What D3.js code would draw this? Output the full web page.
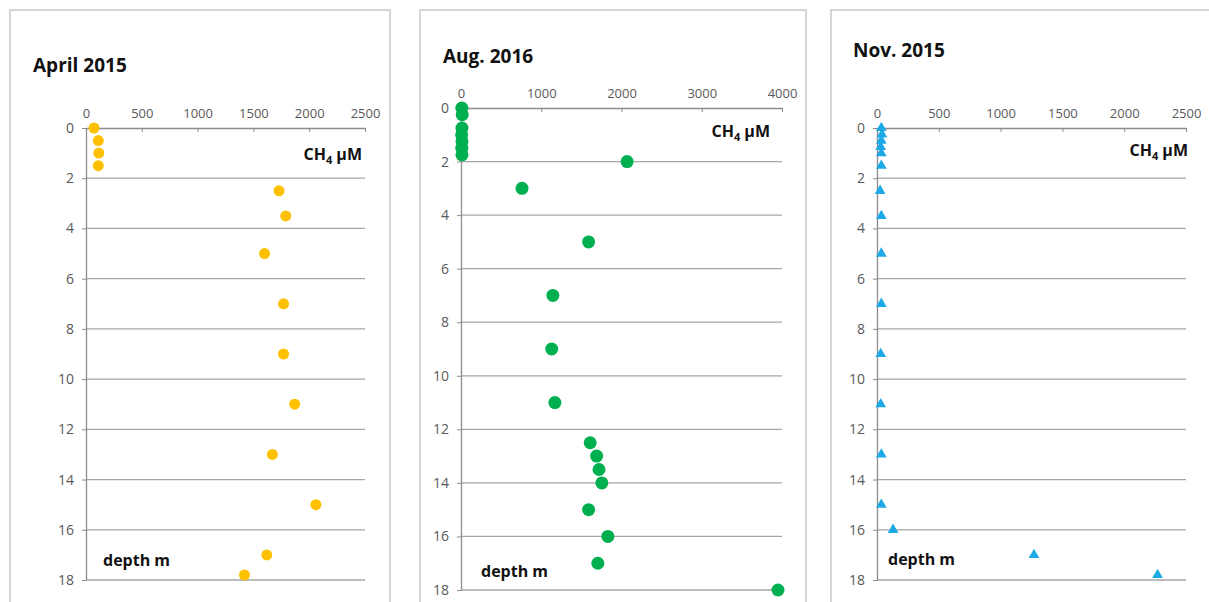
<!DOCTYPE html>
<html><head><meta charset="utf-8">
<script src="https://cdn.jsdelivr.net/npm/d3@7"></script>
<style>body{margin:0;background:#fff;font-family:"Open Sans",sans-serif}</style>
</head><body><svg id="chart" width="1209" height="602"></svg>
<script>
// depth (m) and CH4 (uM) per campaign
let aprDepth=[0,0.5,1,1.5,2.5,3.5,5,7,9,11,13,15,17,17.8];
let aprCH4=[72,110,115,110,1730,1790,1600,1770,1770,1870,1670,2060,1620,1420];
let augDepth=[0,0.25,0.75,1,1.25,1.5,1.75,2,3,5,7,9,11,12.5,13,13.5,14,15,16,17,18];
let augCH4=[10,15,12,8,12,10,12,2070,760,1590,1145,1130,1170,1610,1690,1720,1755,1590,1830,1705,3950];
let novDepth=[0,0.25,0.5,0.75,1,1.5,2.5,3.5,5,7,9,11,13,15,16,17,17.8];
let novCH4=[35,40,35,30,35,35,25,35,35,35,30,30,35,35,130,1270,2270];
let depthTicks=[0,2,4,6,8,10,12,14,16,18];

let panels=[
 {title:"April 2015",depth:aprDepth,ch4:aprCH4,xmax:2500,xstep:500,shape:"circle",color:"#ffc000",
  frame:[10,10,380,600],x0:86,x1:365,y0:128,y1:580,tx:33,ty:72,lab:[362,160],dep:[103,566]},
 {title:"Aug. 2016",depth:augDepth,ch4:augCH4,xmax:4000,xstep:1000,shape:"circle",color:"#00b050",
  frame:[420,10,386,600],x0:461,x1:782,y0:108,y1:590,tx:443,ty:63,lab:[770,137],dep:[481,577]},
 {title:"Nov. 2015",depth:novDepth,ch4:novCH4,xmax:2500,xstep:500,shape:"triangle",color:"#1ca9e6",
  frame:[831,10,390,600],x0:877,x1:1186,y0:128,y1:580,tx:853,ty:57,lab:[1188,156],dep:[888,565]}
];

const svg=d3.select("#chart");
panels.forEach(p=>{
  svg.append("rect").attr("x",p.frame[0]).attr("y",p.frame[1]).attr("width",p.frame[2]).attr("height",p.frame[3])
    .attr("fill","none").attr("stroke","#c8c8c8").attr("stroke-width",1.5);
  let x=d3.scaleLinear().domain([0,p.xmax]).range([p.x0,p.x1]);
  let y=d3.scaleLinear().domain([0,18]).range([p.y0,p.y1]);
  let g=svg.append("g");
  // gridlines
  g.selectAll(".grid").data(depthTicks.slice(1)).enter().append("line")
    .attr("x1",p.x0).attr("x2",p.x1).attr("y1",d=>y(d)).attr("y2",d=>y(d))
    .attr("stroke","#a6a6a6").attr("stroke-width",1.3);
  // top axis
  let xa=g.append("g").attr("transform","translate(0,"+p.y0+")")
    .call(d3.axisTop(x).tickValues(d3.range(0,p.xmax+1,p.xstep)).tickFormat(d3.format("d"))
      .tickSize(-4).tickSizeOuter(0).tickPadding(10));
  xa.selectAll("line").attr("stroke","#8c8c8c");
  xa.select(".domain").attr("stroke","#8c8c8c").attr("stroke-width",1.3);
  xa.selectAll("text").attr("fill","#595959").style("font-size","13px").style("font-family","Open Sans");
  let ya=g.append("g").attr("transform","translate("+p.x0+",0)")
    .call(d3.axisLeft(y).tickValues(depthTicks).tickSize(4).tickSizeOuter(0).tickPadding(8));
  ya.selectAll("line").attr("stroke","#8c8c8c");
  ya.select(".domain").attr("stroke","#8c8c8c").attr("stroke-width",1.3);
  ya.selectAll("text").attr("fill","#595959").style("font-size","14px").style("font-family","Open Sans");
  // marks
  let pts=p.depth.map((d,i)=>({d:d,c:p.ch4[i]}));
  if(p.shape=="circle"){
    g.selectAll(".pt").data(pts).enter().append("circle")
      .attr("cx",d=>x(d.c)).attr("cy",d=>y(d.d)).attr("r",p.title.startsWith("Aug")?6.5:5.5).attr("fill",p.color);
  } else {
    g.selectAll(".pt").data(pts).enter().append("path")
      .attr("d",d3.symbol(d3.symbolTriangle,50))
      .attr("transform",d=>"translate("+x(d.c)+","+y(d.d)+")").attr("fill",p.color);
  }
  svg.append("text").attr("x",p.tx).attr("y",p.ty).text(p.title)
    .attr("font-weight","bold").attr("font-size",19).attr("fill","#111");
  let t=svg.append("text").attr("x",p.lab[0]).attr("y",p.lab[1]).attr("text-anchor","end")
    .attr("font-weight","bold").attr("font-size",16).attr("fill","#111");
  t.append("tspan").text("CH");
  t.append("tspan").text("4").attr("font-size",11).attr("dy",4);
  t.append("tspan").text(" µM").attr("dy",-4);
  svg.append("text").attr("x",p.dep[0]).attr("y",p.dep[1]).text("depth m")
    .attr("font-weight","bold").attr("font-size",16).attr("fill","#111");
});
</script></body></html>
